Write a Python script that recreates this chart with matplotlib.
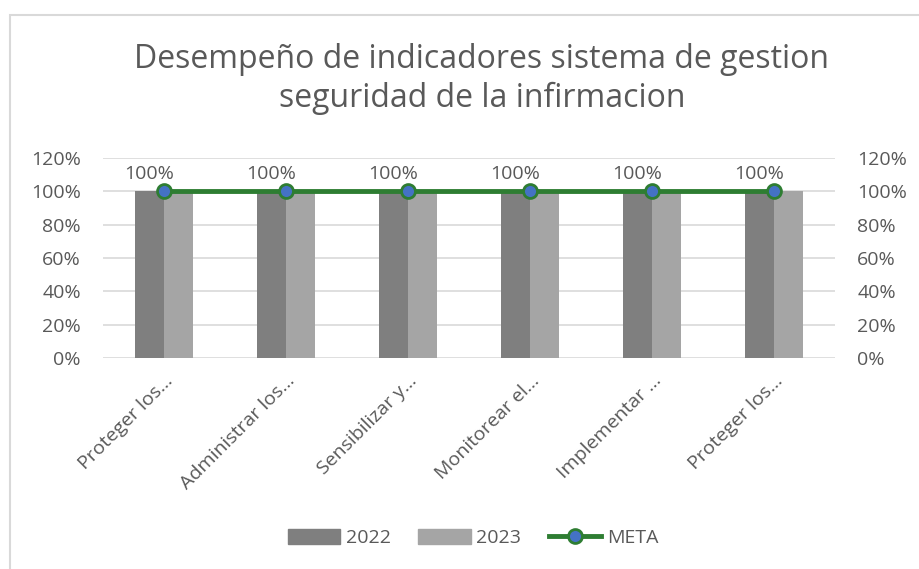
import numpy as np
import matplotlib
matplotlib.use('Agg')
import matplotlib.pyplot as plt
from matplotlib.patches import Rectangle
from matplotlib.lines import Line2D
from matplotlib.ticker import FuncFormatter

plt.rcParams['font.family'] = ['Open Sans', 'DejaVu Sans']

# data
categorias = ['Proteger los\u2026', 'Administrar los\u2026', 'Sensibilizar y\u2026',
              'Monitorear el\u2026', 'Implementar \u2026', 'Proteger los\u2026']
v2022 = [1.0, 1.0, 1.0, 1.0, 1.0, 1.0]
v2023 = [1.0, 1.0, 1.0, 1.0, 1.0, 1.0]
meta = [1.0, 1.0, 1.0, 1.0, 1.0, 1.0]
yticks = [0, 0.2, 0.4, 0.6, 0.8, 1.0, 1.2]

c2022 = '#7F7F7F'
c2023 = '#A5A5A5'
cverde = '#2E7D32'
cazul = '#4472C4'
ctxt = '#595959'

fig = plt.figure(figsize=(9.19, 5.69), dpi=100)

# chart border (only left and top visible in the original crop)
fig.patches.append(Rectangle((10/919, -0.1), 1.2, 1 - 15/569 + 0.1, transform=fig.transFigure,
                             fill=False, edgecolor='#D9D9D9', linewidth=1.5))

ax = fig.add_axes([103/919, 1 - 358/569, 732/919, 200/569])
x = np.arange(len(categorias))
w = 0.238

ax.bar(x - w/2, v2022, w, color=c2022, zorder=2)
ax.bar(x + w/2, v2023, w, color=c2023, zorder=2)

for xi, v in zip(x, v2022):
    ax.text(xi - w/2, v + 0.05, '{:.0%}'.format(v), ha='center', va='bottom',
            fontsize=14, color=ctxt)

ax2 = ax.twinx()
ax2.plot(x, meta, color=cverde, linewidth=3.5, marker='o', markersize=10,
         markerfacecolor=cazul, markeredgecolor=cverde, markeredgewidth=2, zorder=3)

pct = FuncFormatter(lambda v, p: '{:.0f}%'.format(v * 100))
for a in (ax, ax2):
    a.set_ylim(0, 1.2)
    a.set_yticks(yticks)
    a.yaxis.set_major_formatter(pct)
    a.tick_params(axis='y', length=0, labelsize=14, colors=ctxt, pad=16)
    for s in a.spines.values():
        s.set_visible(False)

ax.set_xlim(-0.5, len(categorias) - 0.5)
ax.grid(axis='y', color='#D9D9D9', linewidth=1.2, zorder=0)
ax.set_axisbelow(True)
ax.set_xticks(x)
ax.set_xticklabels(categorias, rotation=45, ha='right', rotation_mode='anchor',
                   fontsize=14, color=ctxt)
ax.tick_params(axis='x', length=0, pad=10)

fig.text(482/919, 1 - 60/569, 'Desempe\u00f1o de indicadores sistema de gestion', ha='center',
         va='center', fontsize=23, color=ctxt)
fig.text(482/919, 1 - 98/569, 'seguridad de la infirmacion', ha='center',
         va='center', fontsize=23, color=ctxt)

handles = [Rectangle((0, 0), 1, 1, color=c2022),
           Rectangle((0, 0), 1, 1, color=c2023),
           Line2D([], [], color=cverde, linewidth=3.5, marker='o', markersize=10,
                  markerfacecolor=cazul, markeredgecolor=cverde, markeredgewidth=2)]
leg = fig.legend(handles, ['2022', '2023', 'META'], loc='center', ncol=3,
                 bbox_to_anchor=(473/919, 1 - 538/569), frameon=False, fontsize=14,
                 handlelength=2.7, handleheight=0.8, columnspacing=1.4, handletextpad=0.3)
for t in leg.get_texts():
    t.set_color(ctxt)

fig.savefig('out.png', dpi=100)
